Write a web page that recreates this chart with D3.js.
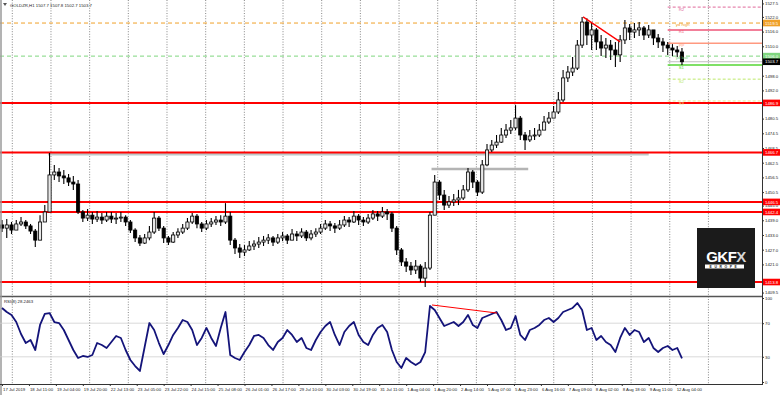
<!DOCTYPE html>
<html>
<head>
<meta charset="utf-8">
<script src="https://cdn.jsdelivr.net/npm/d3@7"></script>
<style>
  body { margin: 0; background: #fff; }
  svg { display: block; font-family: "Liberation Sans", Arial, sans-serif; }
</style>
</head>
<body>
<div id="chart"></div>
<script>
// H1 candles, grouped 3 bars per candle
const candleCloses = [
  1435.8, 1437.1, 1435.0, 1437.5, 1438.3, 1436.7, 1434.6, 1430.9, 1438.3, 1442.4,
  1457.5, 1458.7, 1457.1, 1456.3, 1454.6, 1453.8, 1442.4, 1439.9, 1441.1, 1439.5,
  1440.3, 1439.1, 1440.7, 1439.5, 1439.9, 1440.3, 1438.3, 1435.0, 1431.8, 1429.7,
  1431.8, 1434.2, 1439.9, 1435.8, 1431.8, 1430.1, 1433.0, 1434.2, 1435.8, 1438.3,
  1440.7, 1437.5, 1435.8, 1437.5, 1438.3, 1439.1, 1438.3, 1440.7, 1430.9, 1427.7,
  1426.0, 1426.9, 1428.5, 1429.3, 1430.1, 1430.9, 1431.8, 1430.1, 1431.8, 1432.6,
  1430.9, 1433.4, 1432.6, 1434.2, 1431.8, 1433.4, 1434.2, 1435.8, 1437.5, 1436.7,
  1435.8, 1437.1, 1439.1, 1438.3, 1440.7, 1439.1, 1438.3, 1439.9, 1441.6, 1440.7,
  1442.4, 1441.6, 1435.8, 1426.9, 1422.0, 1420.3, 1418.7, 1420.3, 1415.4, 1419.5,
  1441.1, 1454.6, 1449.3, 1445.2, 1446.5, 1447.3, 1448.1, 1451.4, 1458.7, 1454.6,
  1450.5, 1461.6, 1467.7, 1469.7, 1470.9, 1473.8, 1475.8, 1476.7, 1480.7, 1473.8,
  1471.8, 1473.4, 1473.8, 1475.8, 1479.1, 1480.7, 1483.2, 1488.1, 1497.1, 1499.5,
  1501.1, 1510.5, 1519.9, 1514.6, 1516.7, 1511.8, 1509.3, 1510.5, 1508.5, 1506.5,
  1512.6, 1517.5, 1515.8, 1516.7, 1517.5, 1514.6, 1516.7, 1513.4, 1511.8, 1510.5,
  1509.3, 1508.5, 1507.7, 1503.7
];
const candleHighs = [
  1439.1, 1439.5, 1438.3, 1439.1, 1440.3, 1439.1, 1437.5, 1435.4, 1441.1, 1445.2,
  1466.5, 1461.6, 1460.3, 1459.5, 1457.9, 1457.1, 1455.4, 1443.2, 1443.6, 1442.4,
  1442.8, 1442.0, 1442.4, 1442.4, 1442.0, 1442.4, 1441.1, 1439.1, 1435.8, 1433.0,
  1433.4, 1436.7, 1442.4, 1440.7, 1436.7, 1432.6, 1434.2, 1435.8, 1437.5, 1439.9,
  1442.0, 1441.6, 1438.3, 1439.1, 1439.9, 1440.7, 1441.1, 1446.0, 1442.4, 1431.8,
  1429.3, 1428.9, 1430.5, 1430.9, 1432.2, 1432.6, 1433.4, 1432.6, 1433.4, 1434.2,
  1433.4, 1435.4, 1434.6, 1435.8, 1435.0, 1435.0, 1435.8, 1437.5, 1439.1, 1438.7,
  1437.9, 1439.1, 1440.7, 1440.3, 1442.8, 1441.6, 1440.3, 1441.6, 1443.2, 1442.8,
  1444.4, 1443.6, 1442.4, 1436.7, 1427.7, 1423.6, 1422.0, 1422.8, 1421.1, 1422.0,
  1442.4, 1457.5, 1455.4, 1451.4, 1448.9, 1449.7, 1451.4, 1453.4, 1460.3, 1459.5,
  1455.4, 1463.6, 1470.1, 1471.8, 1473.8, 1476.7, 1478.3, 1479.9, 1486.0, 1481.6,
  1475.0, 1475.8, 1476.7, 1478.3, 1481.6, 1483.2, 1485.6, 1491.4, 1500.3, 1502.0,
  1505.6, 1512.6, 1522.0, 1521.5, 1519.9, 1517.5, 1514.6, 1513.4, 1512.6, 1511.8,
  1514.6, 1520.7, 1519.1, 1519.5, 1519.9, 1518.3, 1518.7, 1516.7, 1515.0, 1513.4,
  1511.8, 1510.9, 1510.1, 1509.3
];
const candleLows = [
  1434.2, 1431.8, 1433.4, 1435.0, 1436.7, 1435.4, 1433.4, 1428.1, 1430.9, 1438.3,
  1442.4, 1455.4, 1454.6, 1453.8, 1453.0, 1451.4, 1441.6, 1438.3, 1438.7, 1437.5,
  1438.3, 1437.5, 1438.3, 1437.9, 1437.5, 1438.3, 1436.7, 1433.8, 1430.1, 1428.5,
  1429.3, 1430.9, 1433.4, 1434.6, 1429.7, 1428.9, 1429.7, 1431.8, 1433.4, 1435.0,
  1437.5, 1435.8, 1434.2, 1435.0, 1436.3, 1437.1, 1436.7, 1437.5, 1428.9, 1425.2,
  1423.6, 1424.4, 1426.5, 1426.9, 1427.7, 1428.5, 1429.3, 1428.5, 1429.3, 1430.5,
  1429.3, 1430.9, 1430.5, 1431.8, 1430.5, 1430.9, 1432.2, 1433.4, 1435.0, 1434.6,
  1433.8, 1435.0, 1436.3, 1436.3, 1437.9, 1437.1, 1436.7, 1437.5, 1439.1, 1438.7,
  1439.9, 1439.1, 1434.2, 1424.8, 1420.3, 1417.9, 1416.7, 1417.1, 1413.8, 1411.8,
  1418.7, 1441.1, 1447.3, 1443.2, 1444.0, 1444.8, 1445.2, 1447.3, 1450.5, 1452.2,
  1448.9, 1449.7, 1461.1, 1466.9, 1468.5, 1470.5, 1472.6, 1474.2, 1475.8, 1471.8,
  1467.7, 1470.9, 1471.8, 1473.0, 1475.8, 1478.3, 1480.7, 1482.4, 1487.3, 1495.4,
  1497.9, 1500.3, 1509.3, 1510.5, 1508.5, 1508.5, 1506.0, 1505.2, 1504.4, 1501.6,
  1503.6, 1510.9, 1512.6, 1513.4, 1514.2, 1512.6, 1513.4, 1510.5, 1509.3, 1507.7,
  1506.5, 1506.0, 1505.6, 1502.4
];
const firstOpen = 1437.1;
const barsPerCandle = 3;

// RSI(8), one value per candle
const rsiValues = [
  88.1, 83.3, 79.8, 71.4, 57.1, 46.4, 50.0, 38.1, 67.9, 81.0,
  82.1, 71.4, 70.2, 61.9, 50.0, 38.1, 28.6, 31.0, 29.8, 32.1,
  46.4, 44.0, 40.5, 47.6, 54.8, 52.4, 38.1, 26.2, 19.0, 13.1,
  41.7, 70.2, 61.9, 46.4, 33.3, 44.0, 56.0, 64.3, 73.8, 71.4,
  61.9, 44.0, 52.4, 64.3, 52.4, 42.9, 64.3, 83.3, 32.1, 28.6,
  26.2, 35.7, 44.0, 54.8, 56.0, 52.4, 44.0, 38.1, 47.6, 52.4,
  61.9, 56.0, 47.6, 52.4, 40.5, 38.1, 50.0, 59.5, 66.7, 71.4,
  56.0, 44.0, 59.5, 66.7, 71.4, 56.0, 47.6, 44.0, 56.0, 64.3,
  67.9, 59.5, 38.1, 23.8, 16.7, 28.6, 23.8, 20.2, 23.8, 35.7,
  90.5, 85.7, 76.2, 66.7, 69.0, 71.4, 66.7, 71.4, 79.8, 67.9,
  64.3, 76.2, 78.6, 81.0, 83.3, 73.8, 61.9, 64.3, 78.6, 56.0,
  50.0, 61.9, 64.3, 67.9, 73.8, 76.2, 71.4, 76.2, 83.3, 85.7,
  88.1, 94.0, 85.7, 61.9, 64.3, 50.0, 54.8, 47.6, 44.0, 35.7,
  52.4, 64.3, 56.0, 61.9, 59.5, 47.6, 52.4, 40.5, 35.7, 40.5,
  42.9, 38.1, 40.5, 28.2
];
const rsiLast = "28.2463";
const rsiLevels = [70, 30];
const rsiTicks = [100, 70, 30, 0];

const timeLabels = [
  "17 Jul 2019", "18 Jul 11:00", "19 Jul 04:00", "19 Jul 20:00", "22 Jul 13:00",
  "23 Jul 05:00", "23 Jul 22:00", "24 Jul 15:00", "25 Jul 08:00", "26 Jul 01:00",
  "26 Jul 17:00", "29 Jul 10:00", "30 Jul 03:00", "30 Jul 19:00", "31 Jul 11:00",
  "1 Aug 04:00", "1 Aug 20:00", "2 Aug 14:00", "5 Aug 07:00", "5 Aug 23:00",
  "6 Aug 16:00", "7 Aug 09:00", "8 Aug 02:00", "8 Aug 18:00", "9 Aug 11:00",
  "12 Aug 04:00"
];
const barsPerTimeLabel = 17;

const priceTicks = [
  1527.5, 1522.0, 1516.0, 1510.0, 1498.0, 1492.0, 1480.5, 1474.5,
  1468.5, 1462.5, 1456.5, 1450.5, 1445.0, 1439.0, 1433.0, 1427.0, 1421.0, 1409.5
];

// drawn support / resistance
const srLevels = [1486.9, 1466.7, 1446.5, 1442.4, 1413.8];
// daily pivots (right edge)
const pivotNames = ["R2", "R1", "PP", "S1", "S2", "S3"];
const pivotValues = [1526.0, 1516.7, 1511.3, 1502.4, 1496.6, 1487.7];
const pivotStartBar = 420;
// previous day high / low
const dayNames = ["yd high", "yd low"];
const dayValues = [1519.5, 1506.0];

const symbol = "GOLDZR,H1";
const titleOHLC = [1507.7, 1507.8, 1502.7, 1503.7];
const lastPrice = 1503.7;

// hand drawn objects: [bar, value]
const priceTrend = [[366.6, 1522.0], [390, 1511.8]];
const rsiTrend = [[271.3, 91.7], [312.3, 82.1]];
const grayLines = [
  {from: 29, to: 408, value: 1466.2},
  {from: 271, to: 332, value: 1459.9}
];

// ---------------------------------------------------------------
const W = 780, H = 395;
const plotRight = 762;
const mainBottom = 296;
const rsiTop = 298, rsiBottom = 382;
const axisY = 384;

const svg = d3.select("#chart").append("svg")
  .attr("width", W).attr("height", H);

svg.append("rect").attr("width", W).attr("height", H).attr("fill", "#fff");

const x = d3.scaleLinear().domain([0, 480]).range([2, 2 + 480 * 1.585]);
const y = d3.scaleLinear().domain([1408.1, 1528.9]).range([mainBottom, 0]);
const yr = d3.scaleLinear().domain([0, 100]).range([rsiBottom, rsiTop]);

// day separators (dotted grid)
const dayBars = d3.range(19).map(k => 6.5 + k * 24.4);
svg.append("g").selectAll("line").data(dayBars).join("line")
  .attr("x1", d => x(d)).attr("x2", d => x(d))
  .attr("y1", 0).attr("y2", axisY)
  .attr("stroke", "#6a6a6a").attr("stroke-width", 0.8)
  .attr("stroke-dasharray", "1,1.6");

// prev day high / low across the chart
const dayStyle = [
  {color: "#f0a028", dash: "4,3"},
  {color: "#7fd67f", dash: "4,3"}
];
svg.append("g").selectAll("line").data(dayValues).join("line")
  .attr("x1", 0).attr("x2", plotRight)
  .attr("y1", d => y(d)).attr("y2", d => y(d))
  .attr("stroke", (d, i) => dayStyle[i].color)
  .attr("stroke-width", 1)
  .attr("stroke-dasharray", (d, i) => dayStyle[i].dash);

// gray zones
svg.append("g").selectAll("line").data(grayLines).join("line")
  .attr("x1", d => x(d.from)).attr("x2", d => x(d.to))
  .attr("y1", d => y(d.value)).attr("y2", d => y(d.value))
  .attr("stroke", (d, i) => i === 0 ? "#bfc8c8" : "#b4b4b4")
  .attr("stroke-width", (d, i) => i === 0 ? 3.5 : 2.5);

// pivots
const pivotStyle = {
  R2: {color: "#e0689a", dash: "3,2", w: 1},
  R1: {color: "#ee5577", dash: null, w: 1.5},
  PP: {color: "#ff9980", dash: null, w: 1.5},
  S1: {color: "#55d633", dash: null, w: 1.5},
  S2: {color: "#bde86a", dash: "3,2", w: 1},
  S3: {color: "#e8e890", dash: "3,2", w: 1}
};
svg.append("g").selectAll("line").data(pivotValues).join("line")
  .attr("x1", x(pivotStartBar)).attr("x2", plotRight)
  .attr("y1", d => y(d)).attr("y2", d => y(d))
  .attr("stroke", (d, i) => pivotStyle[pivotNames[i]].color)
  .attr("stroke-width", (d, i) => pivotStyle[pivotNames[i]].w)
  .attr("stroke-dasharray", (d, i) => pivotStyle[pivotNames[i]].dash);

// bid line
svg.append("line")
  .attr("x1", x(pivotStartBar)).attr("x2", plotRight)
  .attr("y1", y(lastPrice)).attr("y2", y(lastPrice))
  .attr("stroke", "#b0b0b0").attr("stroke-width", 0.8);

// support / resistance
svg.append("g").selectAll("line").data(srLevels).join("line")
  .attr("x1", 0).attr("x2", plotRight)
  .attr("y1", d => y(d)).attr("y2", d => y(d))
  .attr("stroke", "#ff0000").attr("stroke-width", 2);

// candles
const candles = candleCloses.map((c, i) => {
  const o = i === 0 ? firstOpen : candleCloses[i - 1];
  return {
    bar: i * barsPerCandle, o, c,
    h: Math.max(candleHighs[i], o, c),
    l: Math.min(candleLows[i], o, c)
  };
});
const cg = svg.append("g");
cg.selectAll("line").data(candles).join("line")
  .attr("x1", d => x(d.bar)).attr("x2", d => x(d.bar))
  .attr("y1", d => y(d.h)).attr("y2", d => y(d.l))
  .attr("stroke", "#000").attr("stroke-width", 1.1);
cg.selectAll("rect").data(candles).join("rect")
  .attr("x", d => x(d.bar) - 1.6).attr("width", 3.2)
  .attr("y", d => y(Math.max(d.o, d.c)))
  .attr("height", d => Math.max(0.8, Math.abs(y(d.o) - y(d.c))))
  .attr("fill", d => d.c >= d.o ? "#e8e8e8" : "#000")
  .attr("stroke", "#000").attr("stroke-width", 0.8);

// trend line on price
svg.append("line")
  .attr("x1", x(priceTrend[0][0])).attr("y1", y(priceTrend[0][1]))
  .attr("x2", x(priceTrend[1][0])).attr("y2", y(priceTrend[1][1]))
  .attr("stroke", "#ff0000").attr("stroke-width", 1.3);

// pivot labels
const pl = svg.append("g").attr("font-size", 4.3);
pl.selectAll("text.piv").data(pivotValues).join("text")
  .attr("class", "piv")
  .attr("x", x(pivotStartBar) + 11).attr("y", d => y(d) + 3.6)
  .attr("fill", (d, i) => pivotStyle[pivotNames[i]].color)
  .text((d, i) => pivotNames[i]);
pl.selectAll("text.day").data(dayValues).join("text")
  .attr("class", "day")
  .attr("x", x(pivotStartBar) + 8).attr("y", d => y(d) + 2.6)
  .attr("fill", (d, i) => dayStyle[i].color)
  .text((d, i) => dayNames[i]);

// panel separator and frame
svg.append("line").attr("x1", 0).attr("x2", plotRight)
  .attr("y1", mainBottom + 0.5).attr("y2", mainBottom + 0.5)
  .attr("stroke", "#555").attr("stroke-width", 1.6);
svg.append("line").attr("x1", 1).attr("x2", 1)
  .attr("y1", 0).attr("y2", H)
  .attr("stroke", "#9a9a9a").attr("stroke-width", 1.5);

// RSI panel
svg.append("g").selectAll("line").data(rsiLevels).join("line")
  .attr("x1", 0).attr("x2", plotRight)
  .attr("y1", d => yr(d)).attr("y2", d => yr(d))
  .attr("stroke", "#cfcfcf").attr("stroke-width", 0.8);

svg.append("path")
  .datum(rsiValues)
  .attr("d", d3.line().x((d, i) => x(i * barsPerCandle)).y(d => yr(d)))
  .attr("fill", "none").attr("stroke", "#14147a")
  .attr("stroke-width", 1.8).attr("stroke-linejoin", "round");

svg.append("line")
  .attr("x1", x(rsiTrend[0][0])).attr("y1", yr(rsiTrend[0][1]))
  .attr("x2", x(rsiTrend[1][0])).attr("y2", yr(rsiTrend[1][1]))
  .attr("stroke", "#ff0000").attr("stroke-width", 1);

svg.append("text").attr("x", 4).attr("y", mainBottom + 6.5)
  .attr("font-size", 4.3).attr("fill", "#222")
  .text(`RSI(8) ${rsiLast}`);

// title
svg.append("path").attr("d", "M3,3 L7,3 L5,6 Z").attr("fill", "#555");
svg.append("text").attr("x", 10).attr("y", 6.5)
  .attr("font-size", 4.3).attr("fill", "#222")
  .text(`${symbol} ${titleOHLC.map(v => v.toFixed(1)).join(" ")}`);

// GKFX logo
const logo = svg.append("g");
logo.append("rect").attr("x", 697).attr("y", 228).attr("width", 58).attr("height", 60)
  .attr("fill", "#1b1b1b");
const lt = logo.append("text").attr("x", 726).attr("y", 262)
  .attr("text-anchor", "middle").attr("font-size", 15).attr("font-weight", "bold")
  .attr("fill", "#fff").attr("letter-spacing", -0.5);
lt.append("tspan").text("GKF");
lt.append("tspan").attr("fill", "#d6d6d6").text("X");
logo.append("rect").attr("x", 705).attr("y", 264.5).attr("width", 39).attr("height", 4)
  .attr("fill", "#fff");
logo.append("text").attr("x", 724.5).attr("y", 268)
  .attr("text-anchor", "middle").attr("font-size", 3.4).attr("font-weight", "bold")
  .attr("letter-spacing", 2.6).attr("fill", "#1b1b1b").text("EUROPE");

// right axis line
svg.append("line").attr("x1", plotRight + 0.5).attr("x2", plotRight + 0.5)
  .attr("y1", 0).attr("y2", axisY)
  .attr("stroke", "#333").attr("stroke-width", 1);

// price axis
const pa = svg.append("g").attr("transform", `translate(${plotRight},0)`)
  .call(d3.axisRight(y).tickValues(priceTicks).tickSize(2).tickSizeOuter(0)
    .tickFormat(d3.format(".1f")));
pa.select(".domain").remove();
pa.attr("font-size", 4.3).attr("font-family", null);
pa.selectAll("text").attr("x", 3).attr("fill", "#222");
pa.selectAll("line").attr("stroke", "#333");

// RSI axis
const ra = svg.append("g").attr("transform", `translate(${plotRight},0)`)
  .call(d3.axisRight(yr).tickValues(rsiTicks).tickSize(2).tickSizeOuter(0));
ra.select(".domain").remove();
ra.attr("font-size", 4.3).attr("font-family", null);
ra.selectAll("text").attr("x", 3).attr("fill", "#222");
ra.selectAll("line").attr("stroke", "#333");

// price axis value boxes
const boxes = [
  ...dayValues.map((v, i) => ({v, fill: dayStyle[i].color, text: "#fff"})),
  {v: lastPrice, fill: "#000", text: "#fff"},
  ...srLevels.map(v => ({v, fill: "#ff0000", text: "#fff"}))
];
const bx = svg.append("g").attr("font-size", 4.3);
bx.selectAll("rect").data(boxes).join("rect")
  .attr("x", plotRight + 1).attr("width", W - plotRight - 1)
  .attr("y", d => y(d.v) - 3.3).attr("height", 6.6)
  .attr("fill", d => d.fill);
bx.selectAll("text").data(boxes).join("text")
  .attr("x", plotRight + 3).attr("y", d => y(d.v) + 1.6)
  .attr("fill", d => d.text)
  .text(d => d.v.toFixed(1));

// time axis
const labelBars = timeLabels.map((t, i) => i * barsPerTimeLabel);
svg.append("line").attr("x1", 0).attr("x2", plotRight + 1)
  .attr("y1", axisY + 0.5).attr("y2", axisY + 0.5)
  .attr("stroke", "#333").attr("stroke-width", 1);
const ta = svg.append("g").attr("transform", `translate(0,${axisY})`)
  .call(d3.axisBottom(x).tickValues(labelBars).tickSize(2).tickSizeOuter(0)
    .tickFormat((d, i) => timeLabels[i]));
ta.select(".domain").remove();
ta.attr("font-size", 4.3).attr("font-family", null).attr("text-anchor", "start");
ta.selectAll("text").attr("dx", 0.5).attr("y", 4).attr("fill", "#222");
ta.selectAll("line").attr("stroke", "#333");
</script>
</body>
</html>
